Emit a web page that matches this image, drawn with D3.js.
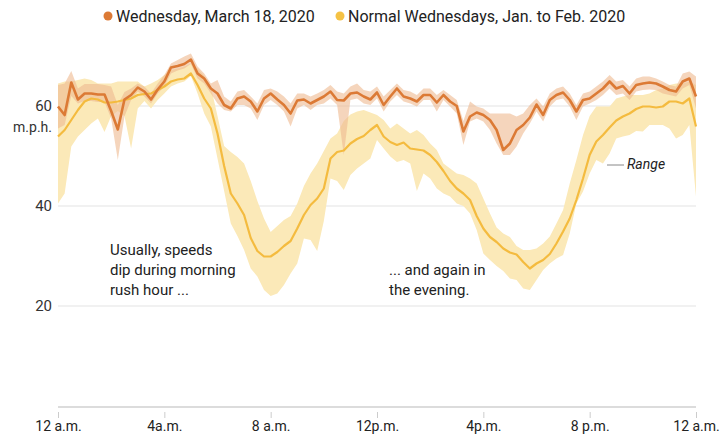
<!DOCTYPE html>
<html>
<head>
<meta charset="utf-8">
<script src="https://cdn.jsdelivr.net/npm/d3@7"></script>
<style>
  html, body { margin: 0; padding: 0; background: #fff; }
  svg { display: block; font-family: Roboto, "Liberation Sans", sans-serif; }
</style>
</head>
<body>
<svg id="chart" width="722" height="440"></svg>
<script>
// 15-minute slots, 0 = 12 a.m. ... 96 = next 12 a.m.
const slots = d3.range(97);

// Wednesday, March 18, 2020 (m.p.h.)
const march18 = [59.9,58.2,64.7,61.3,62.5,62.5,62.3,62.3,59.0,55.3,61.3,62.2,63.7,62.9,61.3,63.3,
  64.9,67.7,68.0,68.4,69.3,66.5,65.5,63.5,62.5,60.2,59.5,61.5,61.9,60.9,58.9,61.5,
  62.5,61.3,60.2,58.5,61.1,61.3,60.5,61.2,61.9,62.9,61.2,61.1,62.5,62.7,61.9,61.3,
  62.7,60.2,61.9,63.5,61.9,61.5,60.9,62.2,62.2,60.7,62.2,60.9,60.0,54.9,57.9,58.7,
  58.2,57.2,55.2,51.2,52.5,55.2,56.2,57.7,60.3,58.2,61.2,62.2,62.7,61.2,58.9,61.2,
  61.5,62.5,63.5,64.9,63.5,64.0,62.5,64.2,64.5,64.7,64.5,63.9,63.2,62.9,64.9,65.5,61.9];
const march18High = [64.2,64.5,67.0,63.5,64.4,64.4,64.4,64.2,63.9,60.2,62.8,63.5,64.5,63.9,62.5,64.5,
  66.2,68.5,69.2,69.9,70.5,67.9,66.5,64.5,65.2,61.9,60.9,62.9,63.2,61.9,60.5,63.2,
  63.5,62.9,61.9,60.5,62.5,62.5,61.9,62.5,63.2,64.2,62.9,62.5,63.9,64.5,63.2,62.9,
  63.9,61.9,63.2,64.5,63.2,62.9,62.2,63.5,63.5,62.2,63.2,62.2,61.2,57.0,60.9,59.9,
  59.5,58.5,58.5,58.5,58.5,57.9,58.5,60.2,61.5,59.9,62.5,63.5,63.9,62.5,60.2,62.5,
  62.9,63.9,64.9,66.2,64.9,65.2,63.9,65.5,65.9,65.9,65.5,64.9,64.2,63.9,66.5,66.9,65.9];
const march18Low = [55.5,56.2,62.0,60.5,61.0,61.0,60.8,60.8,57.5,49.2,57.9,61.2,62.9,61.9,60.5,62.5,
  63.9,66.5,67.1,67.5,68.4,65.5,64.5,62.5,60.5,59.2,58.9,60.2,60.2,59.5,57.2,60.2,
  61.2,60.2,58.9,55.9,59.5,60.2,59.2,60.2,60.5,61.5,60.2,50.2,61.2,61.5,60.5,60.2,
  61.5,58.9,60.9,62.2,60.9,60.5,59.9,61.2,61.2,58.9,61.2,59.9,58.5,52.2,56.9,57.5,
  56.9,55.2,52.5,50.2,50.2,51.9,54.5,56.5,58.9,56.9,59.9,61.2,61.5,59.9,57.2,59.9,
  60.5,61.2,62.2,63.5,62.2,62.5,61.2,62.9,63.2,63.3,63.2,62.5,62.2,61.9,63.5,64.2,59.5];

// Normal Wednesdays, Jan. to Feb. 2020 (m.p.h.)
const normal = [53.9,55.2,57.2,59.2,60.9,61.5,61.3,60.7,60.7,60.9,61.2,61.5,62.2,62.4,62.5,63.2,
  63.9,64.9,65.3,65.5,66.5,64.2,61.5,59.5,54.5,48.0,42.5,40.5,38.2,33.6,31.0,29.9,
  29.9,30.8,32.0,33.0,35.5,38.2,40.2,41.5,43.5,49.5,50.8,51.1,52.5,53.4,54.0,55.2,
  56.2,53.9,52.8,52.2,52.7,51.5,51.3,51.1,50.2,48.8,47.0,45.0,43.5,42.5,41.2,38.0,
  35.5,33.8,32.8,31.5,30.7,30.3,28.8,27.5,28.5,29.2,30.4,32.5,34.9,37.5,41.2,45.5,
  50.2,52.9,54.2,55.7,57.1,57.9,58.5,59.4,59.9,59.9,59.7,59.9,60.9,60.9,60.5,61.5,55.9];
const normalHigh = [64.5,64.9,64.9,65.2,65.5,65.2,64.5,64.5,64.5,64.9,64.9,64.9,64.9,63.9,64.5,65.2,
  66.2,67.2,67.5,67.9,68.5,67.5,66.0,63.9,58.0,52.0,50.8,49.8,48.5,45.0,41.0,37.5,
  34.8,36.0,37.2,38.0,40.5,44.0,46.5,48.5,51.0,53.5,54.5,57.0,58.3,58.9,59.2,58.7,
  58.2,57.2,55.5,56.5,55.5,54.5,55.2,54.2,52.5,51.2,48.5,47.5,46.5,46.2,45.5,44.5,
  41.5,38.5,35.7,34.5,33.8,32.0,31.2,31.2,31.5,32.5,33.9,36.5,39.2,44.5,49.2,54.2,
  58.0,59.9,59.9,59.9,61.5,61.9,62.2,62.2,62.2,62.5,63.2,63.5,64.2,64.5,64.5,64.9,64.2];
const normalLow = [40.5,42.5,51.9,53.9,55.2,56.5,57.5,54.8,58.0,59.0,58.0,51.5,59.5,61.0,59.5,61.2,
  62.5,63.9,64.5,64.9,66.0,62.5,58.5,55.9,49.5,43.0,36.5,34.0,31.2,27.5,25.9,23.2,
  22.0,22.5,24.2,26.5,28.5,33.5,33.2,31.0,37.0,45.5,45.0,43.2,46.2,47.5,48.5,49.5,
  53.2,51.5,49.9,48.8,49.2,48.5,43.0,46.5,45.5,43.5,42.5,41.9,40.5,40.0,38.5,35.2,
  30.5,29.2,28.0,27.0,25.5,25.2,23.5,23.2,25.2,27.2,28.5,29.5,30.2,34.5,40.5,42.9,
  46.5,49.2,48.5,50.5,53.5,53.9,54.2,55.0,54.9,56.2,56.2,56.2,55.5,53.5,54.2,56.2,41.9];

const xTickSlots = [0,16,32,48,64,80,96];
const xTickLabels = ["12 a.m.","4a.m.","8 a.m.","12p.m.","4p.m.","8 p.m.","12 a.m."];
const yTicks = [20,40,60];
const legendLabels = ["Wednesday, March 18, 2020","Normal Wednesdays, Jan. to Feb. 2020"];

const C = {
  orange: "#dc7a35", orangeBand: "#eeb98f", yellow: "#f4bb3f", yellowBand: "#fbe9b8",
  grid: "#e3e3e3", text: "#222"
};

const svg = d3.select("#chart");
const x = d3.scaleLinear().domain([0,96]).range([58,696]);
const y = d3.scaleLinear().domain([0,60]).range([406,106]);

// gridlines
svg.append("g").selectAll("line").data(yTicks).join("line")
  .attr("x1", x(0)).attr("x2", x(96))
  .attr("y1", d => y(d)).attr("y2", d => y(d))
  .attr("stroke", C.grid).attr("stroke-width", 1);

// y labels
svg.append("g").selectAll("text").data(yTicks).join("text")
  .attr("x", 52).attr("y", d => y(d)).attr("dy", "0.35em")
  .attr("text-anchor", "end").attr("font-size", 15).attr("fill", "#333")
  .text(d => d);
svg.append("text").attr("x", 52).attr("y", y(60) + 26)
  .attr("text-anchor", "end").attr("font-size", 14).attr("fill", "#333").text("m.p.h.");

// x axis
const xAxis = d3.axisBottom(x).tickValues(xTickSlots)
  .tickFormat((d, i) => xTickLabels[i]).tickSize(6).tickPadding(6);
const gx = svg.append("g").attr("transform", `translate(0,${y(0) + 3})`).call(xAxis);
gx.select(".domain").remove();
gx.selectAll(".tick line").attr("stroke", "#ccc").attr("transform", "translate(0,3)");
gx.selectAll(".tick text").attr("font-size", 14).attr("fill", "#222")
  .attr("font-family", "Roboto, sans-serif");
svg.append("line").attr("x1", x(0)).attr("x2", x(96))
  .attr("y1", y(0) + 1).attr("y2", y(0) + 1).attr("stroke", "#d0d0d0").attr("stroke-width", 1.5);

// bands
const area = (lo, hi) => d3.area().x(d => x(d)).y0(d => y(lo[d])).y1(d => y(hi[d]));
svg.append("path").datum(slots).attr("d", area(normalLow, normalHigh)(slots))
  .attr("fill", C.yellowBand);
svg.append("path").datum(slots).attr("d", area(march18Low, march18High)(slots))
  .attr("fill", C.orangeBand).attr("fill-opacity", 0.6);

// lines
const line = arr => d3.line().x(d => x(d)).y(d => y(arr[d]));
svg.append("path").attr("d", line(normal)(slots))
  .attr("fill", "none").attr("stroke", C.yellow).attr("stroke-width", 2.2)
  .attr("stroke-linejoin", "round");
svg.append("path").attr("d", line(march18)(slots))
  .attr("fill", "none").attr("stroke", C.orange).attr("stroke-width", 2.6)
  .attr("stroke-linejoin", "round");

// legend
const lg = svg.append("g").attr("font-size", 16).attr("fill", C.text);
lg.append("circle").attr("cx", 108).attr("cy", 16).attr("r", 4.5).attr("fill", C.orange);
lg.append("text").attr("x", 116).attr("y", 22).text(legendLabels[0]);
lg.append("circle").attr("cx", 340).attr("cy", 16).attr("r", 4.5).attr("fill", "#f5c244");
lg.append("text").attr("x", 348).attr("y", 22).text(legendLabels[1]);

// annotations
const ann = svg.append("g").attr("font-size", 15).attr("fill", C.text);
const a1 = ann.append("text").attr("x", 110).attr("y", 255);
["Usually, speeds","dip during morning","rush hour ..."].forEach((t, i) =>
  a1.append("tspan").attr("x", 110).attr("dy", i ? 20 : 0).text(t));
const a2 = ann.append("text").attr("x", 389).attr("y", 275);
["... and again in","the evening."].forEach((t, i) =>
  a2.append("tspan").attr("x", 389).attr("dy", i ? 20 : 0).text(t));

// range label
svg.append("line").attr("x1", 607).attr("x2", 624).attr("y1", 165).attr("y2", 165)
  .attr("stroke", "#888").attr("stroke-width", 1);
svg.append("text").attr("x", 627).attr("y", 169).attr("font-size", 14)
  .attr("font-style", "italic").attr("fill", "#222").text("Range");
</script>
</body>
</html>
